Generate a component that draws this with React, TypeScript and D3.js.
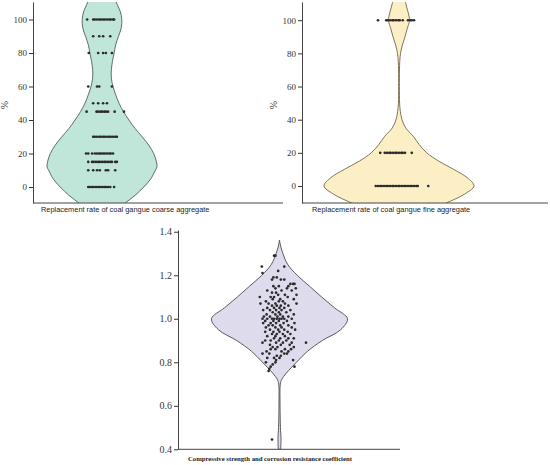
import React, { useEffect, useRef } from "react";
import * as d3 from "d3";

// coarse aggregate replacement rate (%): dot rows and their horizontal jitter
const coarseLevels = [100, 90, 80, 60, 50, 45, 30, 20, 15, 10, 0];
const coarseJitter = [
  [-0.27, -0.16, -0.13, -0.09, -0.05, -0.02, 0.02, 0.05, 0.09, 0.13, 0.16, 0.2, 0.22],
  [-0.16, -0.05, 0.02, 0.15],
  [-0.24, -0.07, 0.02, 0.07, 0.18],
  [-0.25, -0.09, -0.05, 0.18],
  [-0.16, -0.07, 0.02, 0.09],
  [-0.28, -0.1, -0.07, -0.03, 0, 0.04, 0.07, 0.11, 0.23, 0.4],
  [-0.16, -0.13, -0.09, -0.05, -0.02, 0.02, 0.05, 0.09, 0.13, 0.16, 0.2, 0.24, 0.27],
  [-0.29, -0.25, -0.18, -0.13, -0.09, -0.05, -0.02, 0.02, 0.05, 0.09, 0.13, 0.16, 0.2],
  [-0.25, -0.18, -0.15, -0.11, -0.07, -0.04, 0, 0.04, 0.07, 0.11, 0.15, 0.18, 0.24, 0.27],
  [-0.25, -0.16, -0.09, -0.04, 0.07, 0.11, 0.24],
  [-0.25, -0.22, -0.18, -0.15, -0.11, -0.07, -0.04, 0, 0.04, 0.07, 0.11, 0.15, 0.22],
];
// violin outline: value -> relative half width
const coarseDensityAt = [116, 111, 105, 100, 95, 90, 85, 80, 75, 70, 65, 60, 55, 50, 45, 40, 35, 30, 25, 20, 15, 12, 10, 5, 0, -5, -9.6, -13];
const coarseDensity = [0.21, 0.25, 0.33, 0.36, 0.35, 0.3, 0.25, 0.22, 0.19, 0.17, 0.17, 0.2, 0.25, 0.31, 0.39, 0.49, 0.6, 0.73, 0.85, 0.94, 0.99, 1.0, 0.97, 0.89, 0.76, 0.6, 0.42, 0.3];

// fine aggregate replacement rate (%)
const fineLevels = [100, 20, 0];
const fineJitter = [
  [-0.28, -0.17, -0.15, -0.12, -0.09, -0.07, -0.04, -0.01, 0.01, 0.05, 0.12, 0.15, 0.17, 0.2],
  [-0.25, -0.19, -0.16, -0.13, -0.11, -0.08, -0.05, -0.03, 0, 0.03, 0.05, 0.08, 0.17],
  [-0.31, -0.28, -0.25, -0.23, -0.2, -0.17, -0.15, -0.12, -0.09, -0.07, -0.04, -0.01, 0.01, 0.04, 0.07, 0.09, 0.12, 0.15, 0.17, 0.2, 0.23, 0.25, 0.39],
];
const fineDensityAt = [116, 110, 105, 100, 95, 90, 85, 80, 75, 70, 60, 50, 45, 40, 35, 30, 25, 20, 15, 10, 5, 0, -5, -10.3, -13];
const fineDensity = [0.06, 0.09, 0.12, 0.14, 0.11, 0.08, 0.045, 0.02, 0.01, 0.006, 0.005, 0.008, 0.018, 0.04, 0.09, 0.19, 0.27, 0.37, 0.53, 0.73, 0.91, 1.0, 0.87, 0.63, 0.5];

// compressive strength and corrosion resistance coefficient
const ratioLevels = [
  1.29, 1.24, 1.22, 1.21, 1.19, 1.18, 1.16, 1.15, 1.14, 1.13, 1.12, 1.11, 1.1, 1.09, 1.08, 1.07, 1.06, 1.05,
  1.04, 1.03, 1.02, 1.01, 1.0, 0.99, 0.98, 0.97, 0.96, 0.95, 0.94, 0.93, 0.92, 0.91, 0.9, 0.89, 0.88, 0.87,
  0.86, 0.85, 0.84, 0.83, 0.82, 0.81, 0.8, 0.79, 0.78, 0.77, 0.76, 0.445,
];
const ratioJitter = [
  [-0.08, -0.06], [-0.26, 0.07], [-0.02], [-0.25], [-0.09, -0.04], [-0.11, 0.02, 0.07],
  [0.16, 0.2, 0.22], [-0.09, -0.01, 0.13], [-0.06, 0.11, 0.24], [-0.18, 0.03, 0.18], [-0.11, -0.05],
  [-0.02, 0.08, 0.25], [-0.29, -0.13, -0.08, 0.12], [-0.1, 0.01, 0.21], [-0.2, -0.01, 0.05],
  [-0.28, -0.16, -0.06, 0.08, 0.25], [-0.11, -0.04, 0.02, 0.13], [-0.18, -0.08, 0, 0.07],
  [-0.24, -0.14, -0.05, 0.03, 0.16], [-0.1, -0.01, 0.1], [-0.19, -0.06, 0.01, 0.21],
  [-0.23, -0.14, -0.03, 0.05, 0.13], [-0.25, -0.18, -0.11, -0.08, -0.04, 0, 0.03, 0.07, 0.18],
  [-0.21, -0.09, -0.01, 0.11], [-0.24, -0.13, -0.05, 0.06, 0.22], [-0.16, -0.1, 0.01, 0.13],
  [-0.2, -0.06, 0.03, 0.18], [-0.14, -0.02, 0.07, 0.23], [-0.21, -0.09, 0, 0.12], [-0.11, -0.04, 0.05, 0.16],
  [-0.18, -0.06, 0.08], [-0.08, 0.01, 0.13, 0.21], [-0.21, -0.13, -0.01, 0.1], [-0.25, -0.05, 0.05, 0.18, 0.39],
  [-0.14, 0.02, 0.15], [-0.1, -0.03, 0.21], [-0.13, -0.06, 0.08, 0.17], [-0.19, 0.03, 0.13],
  [-0.25, -0.15, 0.07, 0.11], [-0.04, 0.02], [-0.18, -0.08, 0], [-0.05, 0.2], [-0.2, -0.06], [-0.1],
  [-0.13, 0.22], [-0.15], [-0.16], [-0.11],
];
const ratioDensityAt = [1.362, 1.33, 1.3, 1.25, 1.2, 1.15, 1.1, 1.05, 1.0, 0.95, 0.9, 0.85, 0.8, 0.75, 0.72, 0.7, 0.6, 0.5, 0.45, 0.4];
const ratioDensity = [0, 0.02, 0.05, 0.12, 0.26, 0.44, 0.62, 0.81, 1.0, 0.9, 0.63, 0.41, 0.25, 0.1, 0.03, 0.012, 0.008, 0.014, 0.022, 0.018];

const percentTicks = [0, 20, 40, 60, 80, 100];
const ratioTicks = [0.4, 0.6, 0.8, 1.0, 1.2, 1.4];

interface Panel {
  id: string;
  levels: number[];
  jitter: number[][];
  densityAt: number[];
  density: number[];
  domain: [number, number];
  ticks: number[];
  tickFormat: (d: number) => string;
  left: number;
  right: number;
  top: number;
  bottom: number;
  cx: number;
  half: number;
  fill: string;
  stroke: string;
  tickFont: number;
}

const panels: Panel[] = [
  {
    id: "coarse",
    levels: coarseLevels,
    jitter: coarseJitter,
    densityAt: coarseDensityAt,
    density: coarseDensity,
    domain: [-9.55, 110.45],
    ticks: percentTicks,
    tickFormat: (d) => String(d),
    left: 33, right: 283, top: 2, bottom: 203,
    cx: 102, half: 55,
    fill: "#c0e6d9", stroke: "#4f5f59", tickFont: 9,
  },
  {
    id: "fine",
    levels: fineLevels,
    jitter: fineJitter,
    densityAt: fineDensityAt,
    density: fineDensity,
    domain: [-10.26, 111.0],
    ticks: percentTicks,
    tickFormat: (d) => String(d),
    left: 302, right: 548, top: 2, bottom: 203,
    cx: 399, half: 75,
    fill: "#fdefc5", stroke: "#6f6647", tickFont: 9,
  },
  {
    id: "ratio",
    levels: ratioLevels,
    jitter: ratioJitter,
    densityAt: ratioDensityAt,
    density: ratioDensity,
    domain: [0.4, 1.408],
    ticks: ratioTicks,
    tickFormat: d3.format(".1f"),
    left: 178, right: 400, top: 230, bottom: 449.3,
    cx: 279.5, half: 68,
    fill: "#dedcec", stroke: "#4a4a4a", tickFont: 10,
  },
];

export default function App() {
  const svgRef = useRef<SVGSVGElement | null>(null);

  useEffect(() => {
    if (!svgRef.current) return;
    const svg = d3.select(svgRef.current);
    svg.selectAll("*").remove();

    panels.forEach((p) => {
      const y = d3.scaleLinear().domain(p.domain).range([p.bottom, p.top]);
      const x = d3.scaleLinear().domain([-1, 1]).range([p.cx - p.half, p.cx + p.half]);
      const g = svg.append("g");

      g.append("clipPath")
        .attr("id", `clip-${p.id}`)
        .append("rect")
        .attr("x", p.left)
        .attr("y", p.top)
        .attr("width", p.right - p.left)
        .attr("height", p.bottom - p.top);

      const outline = p.densityAt.map((v, i) => [v, p.density[i]] as [number, number]);
      const area = d3
        .area<[number, number]>()
        .y((d) => y(d[0]))
        .x0((d) => x(-d[1]))
        .x1((d) => x(d[1]))
        .curve(d3.curveCatmullRom);

      g.append("path")
        .attr("clip-path", `url(#clip-${p.id})`)
        .attr("d", area(outline)!)
        .attr("fill", p.fill)
        .attr("stroke", p.stroke)
        .attr("stroke-width", 0.9);

      // dots
      const dots = p.levels.flatMap((v, i) => p.jitter[i].map((j) => ({ v, j })));
      g.selectAll("circle.dot")
        .data(dots)
        .enter()
        .append("circle")
        .attr("class", "dot")
        .attr("cx", (d) => x(d.j))
        .attr("cy", (d) => y(d.v))
        .attr("r", 1.35)
        .attr("fill", "#2b2b2b");

      // y axis
      const yAxis = g
        .append("g")
        .attr("transform", `translate(${p.left},0)`)
        .call(d3.axisLeft(y).tickValues(p.ticks).tickFormat(p.tickFormat as any).tickSize(4).tickSizeOuter(0).tickPadding(2));
      yAxis
        .attr("font-family", "'Liberation Serif', 'Times New Roman', serif")
        .attr("font-size", p.tickFont)
        .attr("color", "#333");
      yAxis.select(".domain").attr("stroke", "#444");

      // x axis line
      g.append("line")
        .attr("x1", p.left)
        .attr("x2", p.right)
        .attr("y1", p.bottom)
        .attr("y2", p.bottom)
        .attr("stroke", "#444")
        .attr("stroke-width", 1);
    });

    // axis titles
    [8, 277].forEach((tx) => {
      svg
        .append("text")
        .attr("transform", `translate(${tx},105) rotate(-90)`)
        .attr("text-anchor", "middle")
        .attr("font-family", "'Liberation Serif', serif")
        .attr("font-size", 10)
        .attr("fill", "#333")
        .text("%");
    });

    svg
      .append("text")
      .attr("x", 41)
      .attr("y", 212)
      .attr("font-family", "'Liberation Sans', Arial, sans-serif")
      .attr("font-size", 7.4)
      .attr("fill", "#222")
      .text("Replacement rate of coal gangue coarse aggregate");

    svg
      .append("text")
      .attr("x", 312)
      .attr("y", 212)
      .attr("font-family", "'Liberation Sans', Arial, sans-serif")
      .attr("font-size", 7.4)
      .attr("fill", "#222")
      .text("Replacement rate of coal gangue fine aggregate");

    svg
      .append("text")
      .attr("x", 188)
      .attr("y", 461)
      .attr("font-family", "'Liberation Serif', 'Times New Roman', serif")
      .attr("font-weight", "bold")
      .attr("font-size", 6.7)
      .attr("fill", "#222")
      .text("Compressive strength and corrosion resistance coefficient");
  }, []);

  return (
    <svg
      ref={svgRef}
      width={550}
      height={465}
      style={{ position: "absolute", left: 0, top: 0, background: "#fff" }}
    />
  );
}
